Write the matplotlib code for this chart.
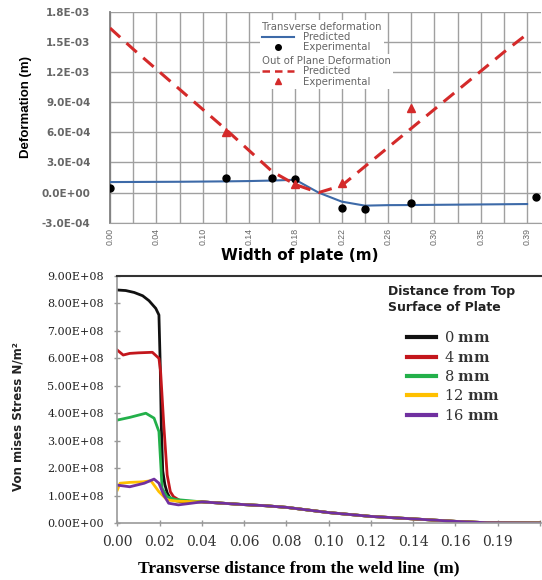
import matplotlib.pyplot as plt
from matplotlib.lines import Line2D
from matplotlib.ticker import FuncFormatter
import numpy as np

plt.rcParams['mathtext.fontset'] = 'dejavuserif'

# ---- top chart: deformation across the width of the plate ----
# Excel style category axis, one gridline per category, labels on every other one
width_labels = ['0.00', '0.04', '0.10', '0.14', '0.18', '0.22', '0.26', '0.30', '0.35', '0.39']
n_cat = 19
trans_pred = np.array([0.105, 0.106, 0.107, 0.108, 0.110, 0.112, 0.115, 0.120, 0.128, 0.0,
                       -0.09, -0.13, -0.125, -0.124, -0.122, -0.12, -0.118, -0.116, -0.114]) * 1e-3
trans_exp_pos = [0, 5, 7, 8, 10, 11, 13, 18.4]
trans_exp = np.array([0.05, 0.15, 0.15, 0.14, -0.15, -0.16, -0.10, -0.04]) * 1e-3
oop_pred = np.array([1.64, 1.43, 1.23, 1.03, 0.83, 0.63, 0.42, 0.21, 0.08, 0.0,
                     0.07, 0.26, 0.45, 0.64, 0.83, 1.02, 1.21, 1.40, 1.58]) * 1e-3
oop_exp_pos = [5, 8, 10, 13]
oop_exp = np.array([0.60, 0.09, 0.10, 0.84]) * 1e-3
def_ticks = [-3.0e-4, 0.0, 3.0e-4, 6.0e-4, 9.0e-4, 1.2e-3, 1.5e-3, 1.8e-3]

# ---- bottom chart: von Mises stress vs distance from weld line ----
dist_ticks = ['0.00', '0.02', '0.04', '0.06', '0.08', '0.10', '0.12', '0.14', '0.16', '0.19', '']
depths = ['0', '4', '8', '12', '16']
colors = ['#111111', '#c3161c', '#23b04a', '#ffc000', '#7030a0']
tail_x = [0.04, 0.05, 0.06, 0.07, 0.08, 0.10, 0.12, 0.14, 0.16, 0.175, 0.20]
tail_y = [0.77, 0.72, 0.67, 0.63, 0.57, 0.38, 0.24, 0.15, 0.06, 0.01, 0.0]
s0_x = [0, 0.004, 0.008, 0.012, 0.015, 0.0182, 0.0197, 0.0203, 0.0208, 0.0215, 0.0225, 0.0236, 0.025, 0.027, 0.03]
s0_y = [8.49, 8.47, 8.40, 8.28, 8.10, 7.82, 7.58, 5.8, 3.6, 1.9, 1.4, 1.1, 0.9, 0.82, 0.78]
s4_x = [0, 0.0028, 0.0059, 0.010, 0.0166, 0.0197, 0.0205, 0.022, 0.0236, 0.0251, 0.0266, 0.03]
s4_y = [6.30, 6.12, 6.18, 6.20, 6.22, 6.00, 5.51, 3.57, 1.75, 1.14, 0.96, 0.80]
s8_x = [0, 0.006, 0.0135, 0.0174, 0.0197, 0.0205, 0.0212, 0.0236, 0.0274, 0.03]
s8_y = [3.75, 3.85, 4.00, 3.82, 3.33, 2.23, 1.26, 0.96, 0.86, 0.84]
s12_x = [0, 0.0013, 0.006, 0.012, 0.0159, 0.0197, 0.0236, 0.028, 0.03]
s12_y = [1.20, 1.45, 1.48, 1.50, 1.54, 1.14, 0.84, 0.80, 0.79]
s16_x = [0, 0.0059, 0.0128, 0.0174, 0.0197, 0.022, 0.0243, 0.0289, 0.035]
s16_y = [1.38, 1.32, 1.45, 1.60, 1.45, 1.02, 0.72, 0.66, 0.72]

fig = plt.figure(figsize=(5.42, 5.80), dpi=100)

# ================= top plot =================
ax1 = fig.add_axes([110/542, 1-222.7/580, 431/542, 210.7/580])
cats = np.arange(n_cat)
ax1.plot(cats, trans_pred, color='#3d6aa8', lw=1.5, zorder=3)
ax1.plot(trans_exp_pos, trans_exp, 'o', color='black', ms=5, zorder=4)
ax1.plot(cats, oop_pred, color='#d42a2a', lw=2.2, dashes=(4.5, 2.8), zorder=3)
ax1.plot(oop_exp_pos, oop_exp, '^', color='#d42a2a', ms=6, zorder=4)

ax1.set_xlim(0, 18.6)
ax1.set_ylim(-3.0e-4, 1.8e-3)
ax1.set_xticks(cats, minor=True)
ax1.set_xticks(cats[::2])
ax1.set_xticklabels(width_labels, rotation=90, fontsize=6.3, color='#666',
                    family='Liberation Sans')
ax1.set_yticks(def_ticks)
ax1.yaxis.set_major_formatter(FuncFormatter(lambda v, p: f'{v:.1E}'))
for t in ax1.get_yticklabels():
    t.set_fontsize(7.5)
    t.set_fontweight('bold')
    t.set_color('#666')
ax1.tick_params(axis='both', which='both', length=0)
ax1.tick_params(axis='y', pad=14)
ax1.tick_params(axis='x', pad=4)
ax1.grid(True, which='both', axis='x', color='#a0a0a0', lw=1.0)
ax1.grid(True, which='major', axis='y', color='#a0a0a0', lw=1.0)
ax1.set_axisbelow(True)
for s in ['top', 'right']:
    ax1.spines[s].set_visible(False)
ax1.spines['bottom'].set_color('#a0a0a0')
ax1.spines['left'].set_color('#808080')
ax1.spines['left'].set_linewidth(1.3)

ax1.set_ylabel('Deformation (m)', fontsize=9.5, fontweight='bold', family='Liberation Sans')
ax1.yaxis.set_label_coords(-0.181, 0.549)
ax1.set_xlabel('Width of plate (m)', fontsize=11, fontweight='bold')
ax1.xaxis.set_label_coords(0.44, -0.118)

leg_kw = dict(loc='upper left', fontsize=7.3, labelcolor='#666', alignment='left',
              frameon=True, facecolor='white', edgecolor='none', framealpha=1,
              handlelength=3.2, handletextpad=0.8, labelspacing=0.02, borderpad=0.2,
              borderaxespad=0)
h1 = [Line2D([], [], color='#3d6aa8', lw=1.5),
      Line2D([], [], ls='none', marker='o', color='black', ms=4)]
leg1 = ax1.legend(h1, ['Predicted', 'Experimental'], title='Transverse deformation',
                  bbox_to_anchor=(0.348, 0.962), **leg_kw)
leg1.get_title().set_fontsize(7.3)
leg1.get_title().set_color('#666')
ax1.add_artist(leg1)
h2 = [Line2D([], [], color='#d42a2a', lw=1.8, dashes=(3, 2)),
      Line2D([], [], ls='none', marker='^', color='#d42a2a', ms=5)]
leg2 = ax1.legend(h2, ['Predicted', 'Experimental'], title='Out of Plane Deformation',
                  bbox_to_anchor=(0.348, 0.80), **leg_kw)
leg2.get_title().set_fontsize(7.3)
leg2.get_title().set_color('#666')

# ================= bottom plot =================
ax2 = fig.add_axes([117.3/542, 1-523/580, 423.7/542, 247/580])
series = [(s0_x, s0_y), (s4_x, s4_y), (s8_x, s8_y), (s12_x, s12_y), (s16_x, s16_y)]
for (sx, sy), d, c in zip(series, depths, colors):
    xs = list(sx) + tail_x
    ys = (np.array(list(sy) + tail_y)) * 1e8
    ax2.plot(xs, ys, color=c, lw=2.0, label=d + r' $\mathbf{mm}$', solid_joinstyle='round')

ax2.set_xlim(0, 0.2005)
ax2.set_ylim(0, 9e8)
ax2.set_xticks(np.arange(11) * 0.02)
ax2.set_xticklabels(dist_ticks, fontsize=10, family='DejaVu Serif', color='#333')
ax2.set_yticks(np.arange(10) * 1e8)
ax2.yaxis.set_major_formatter(FuncFormatter(lambda v, p: f'{v:.2E}'))
for t in ax2.get_yticklabels():
    t.set_fontsize(8)
    t.set_family('DejaVu Serif')
    t.set_color('#222')
ax2.tick_params(axis='both', direction='inout', length=5, width=1, color='#999')
ax2.tick_params(axis='y', pad=7)
ax2.tick_params(axis='x', pad=6)
ax2.spines['right'].set_visible(False)
ax2.spines['top'].set_color('#333')
ax2.spines['top'].set_linewidth(1.5)
for s in ['left', 'bottom']:
    ax2.spines[s].set_color('#999')
    ax2.spines[s].set_linewidth(1.2)

ax2.set_ylabel('Von mises Stress N/m²', fontsize=8.5, fontweight='bold', color='#222')
ax2.yaxis.set_label_coords(-0.218, 0.43)
ax2.set_xlabel('Transverse distance from the weld line  (m)', fontsize=12.5,
               fontweight='bold', family='Liberation Serif')
ax2.xaxis.set_label_coords(0.429, -0.152)

ax2.text(0.639, 0.965, 'Distance from Top\nSurface of Plate', transform=ax2.transAxes,
         ha='left', va='top', fontsize=9, fontweight='bold', color='#222', linespacing=1.3)
leg3 = ax2.legend(loc='upper left', bbox_to_anchor=(0.684, 0.78), frameon=False,
                  prop={'family': 'DejaVu Serif', 'size': 10.5}, labelcolor='#333',
                  handlelength=2.0, handletextpad=0.5, labelspacing=0.3, borderpad=0,
                  borderaxespad=0)
for ln in leg3.get_lines():
    ln.set_linewidth(3)

fig.savefig('out.png', dpi=100)
